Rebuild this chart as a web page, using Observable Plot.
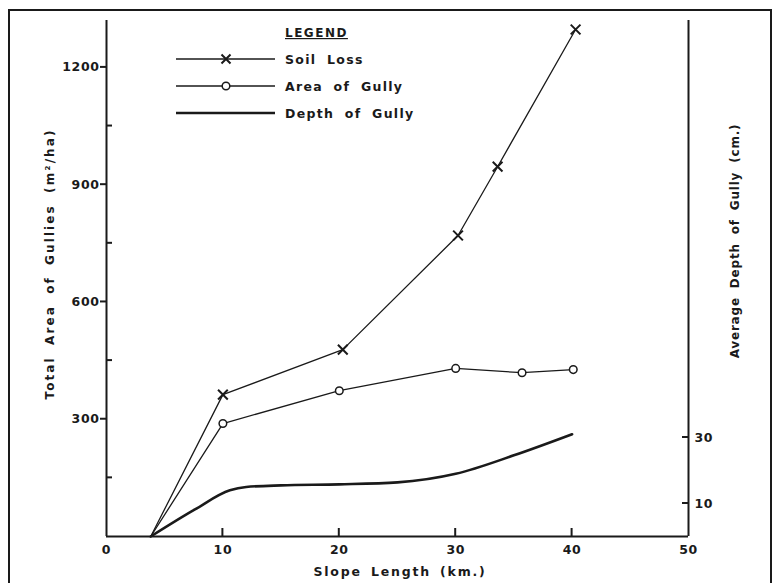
<!DOCTYPE html>
<html>
<head>
<meta charset="utf-8">
<script src="https://cdn.jsdelivr.net/npm/d3@7"></script>
<script src="https://cdn.jsdelivr.net/npm/@observablehq/plot@0.6"></script>
<style>
  html, body { margin: 0; padding: 0; background: #fff; }
  #wrap { position: relative; width: 783px; height: 583px; overflow: hidden; }
  #frame { position: absolute; left: 8px; top: 9px; width: 764px; height: 640px; border: 2px solid #1a1a1a; box-sizing: border-box; }
  #chart, #overlay { position: absolute; left: 0; top: 0; }
  svg text { font-family: "DejaVu Sans", sans-serif; font-weight: bold; fill: #1a1a1a; }
  g[aria-label="x-axis tick label"] text, g[aria-label="y-axis tick label"] text { letter-spacing: 0.6px; }
</style>
</head>
<body>
<div id="wrap">
  <div id="frame"></div>
  <div id="chart"></div>
  <svg id="overlay" width="783" height="583"></svg>
</div>
<script>
// ---- data ----
const xSoil = [3.8, 10, 20.3, 30.2, 33.6, 40.3];
const soilLoss = [0, 363, 478, 770, 946, 1297];

const xArea = [3.8, 10, 20, 30, 35.7, 40.1];
const areaGully = [0, 289, 373, 430, 419, 427];

const xDepth = [3.8, 7.6, 10.6, 12, 15, 20, 25, 30, 35, 40];
const depthGully = [0, 8.2, 14, 15, 15.5, 15.8, 16.4, 19, 24.6, 31];

const xTicks = [0, 10, 20, 30, 40, 50];
const xInnerTicks = [10, 20, 30, 40];
const yTicks = [300, 600, 900, 1200];
const yMinorTicks = [150, 450, 750, 1050];
const depthTicks = [10, 30];

const xTitle = "Slope Length (km.)";
const yTitle = "Total Area of Gullies (m²/ha)";
const y2Title = "Average Depth of Gully (cm.)";
const legendTitle = "LEGEND";
const legendLabels = ["Soil Loss", "Area of Gully", "Depth of Gully"];

// scale factor mapping depth (cm) onto the left axis units
const k = 8.44;

const soilData = xSoil.map((x, i) => ({x, y: soilLoss[i]}));
const areaData = xArea.map((x, i) => ({x, y: areaGully[i]}));
const depthData = xDepth.map((x, i) => ({x, y: depthGully[i] * k}));

const ink = "#1a1a1a";

const chart = Plot.plot({
  width: 783,
  height: 583,
  marginLeft: 106,
  marginRight: 95,
  marginTop: 20,
  marginBottom: 47,
  style: {background: "transparent", fontSize: "12.5px", fontFamily: "DejaVu Sans"},
  x: {domain: [0, 50]},
  y: {domain: [0, 1320]},
  marks: [
    Plot.axisX({ticks: xTicks, tickSize: 0, tickPadding: 9, tickFormat: d => String(d), label: null}),
    Plot.axisY({ticks: yTicks, tickSize: 0, tickPadding: 7, tickFormat: d => String(d), label: null}),
    Plot.axisY({anchor: "right", ticks: depthTicks.map(d => d * k), tickSize: 0, tickPadding: 6,
      tickFormat: d => String(Math.round(d / k)), label: null}),
    Plot.ruleX([0, 50], {stroke: ink, strokeWidth: 2}),
    Plot.ruleY([0], {stroke: ink, strokeWidth: 2}),
    Plot.line(soilData, {x: "x", y: "y", stroke: ink, strokeWidth: 1.3}),
    Plot.dot(soilData.slice(1), {x: "x", y: "y", symbol: "times", r: 4.5, stroke: ink, strokeWidth: 2}),
    Plot.line(areaData, {x: "x", y: "y", stroke: ink, strokeWidth: 1.3}),
    Plot.dot(areaData.slice(1), {x: "x", y: "y", symbol: "circle", r: 3.8, fill: "white", stroke: ink, strokeWidth: 1.5}),
    Plot.line(depthData, {x: "x", y: "y", curve: "monotone-x", stroke: ink, strokeWidth: 2.6})
  ]
});
document.getElementById("chart").appendChild(chart);

// ---- tick marks, titles and legend (overlay, positioned with the chart's own scales) ----
const sx = chart.scale("x"), sy = chart.scale("y");
const x0 = sx.apply(0), x50 = sx.apply(50), y0 = sy.apply(0);
const ov = d3.select("#overlay");
const tick = (x1, y1, x2, y2) => ov.append("line").attr("x1", x1).attr("y1", y1).attr("x2", x2).attr("y2", y2)
  .attr("stroke", ink).attr("stroke-width", 2);
xInnerTicks.forEach(v => tick(sx.apply(v), y0, sx.apply(v), y0 - 8));
yTicks.forEach(v => tick(x0 - 6, sy.apply(v), x0, sy.apply(v)));
yMinorTicks.forEach(v => tick(x0, sy.apply(v), x0 + 6, sy.apply(v)));
depthTicks.forEach(v => tick(x50 - 6, sy.apply(v * k), x50, sy.apply(v * k)));

ov.append("text").attr("x", 400).attr("y", 576).attr("text-anchor", "middle").text(xTitle)
  .style("font-size", "12.5px").style("letter-spacing", "1.8px").style("word-spacing", "3px");
ov.append("text").attr("transform", "translate(54,264) rotate(-90)").attr("text-anchor", "middle").text(yTitle)
  .style("font-size", "12px").style("letter-spacing", "2.1px").style("word-spacing", "5px");
ov.append("text").attr("transform", "translate(739,241) rotate(-90)").attr("text-anchor", "middle").text(y2Title)
  .style("font-size", "12px").style("letter-spacing", "0.8px").style("word-spacing", "4px");

ov.append("text").attr("x", 285).attr("y", 37).text(legendTitle)
  .style("font-size", "12px").style("letter-spacing", "1.5px").style("text-decoration", "underline");
legendLabels.forEach((label, i) => {
  const y = 59 + i * 27;
  ov.append("line").attr("x1", 176).attr("x2", 275).attr("y1", y).attr("y2", y)
    .attr("stroke", ink).attr("stroke-width", i === 2 ? 2.6 : 1.3);
  if (i === 0) {
    ov.append("path").attr("d", d3.symbol(d3.symbolTimes, 55)()).attr("transform", `translate(226,${y})`)
      .attr("stroke", ink).attr("stroke-width", 2).attr("fill", "none");
  } else if (i === 1) {
    ov.append("circle").attr("cx", 226).attr("cy", y).attr("r", 3.8)
      .attr("fill", "white").attr("stroke", ink).attr("stroke-width", 1.5);
  }
  ov.append("text").attr("x", 285).attr("y", y + 4.5).text(label)
    .style("font-size", "12.5px").style("letter-spacing", "1.3px").style("word-spacing", "5px");
});
</script>
</body>
</html>
